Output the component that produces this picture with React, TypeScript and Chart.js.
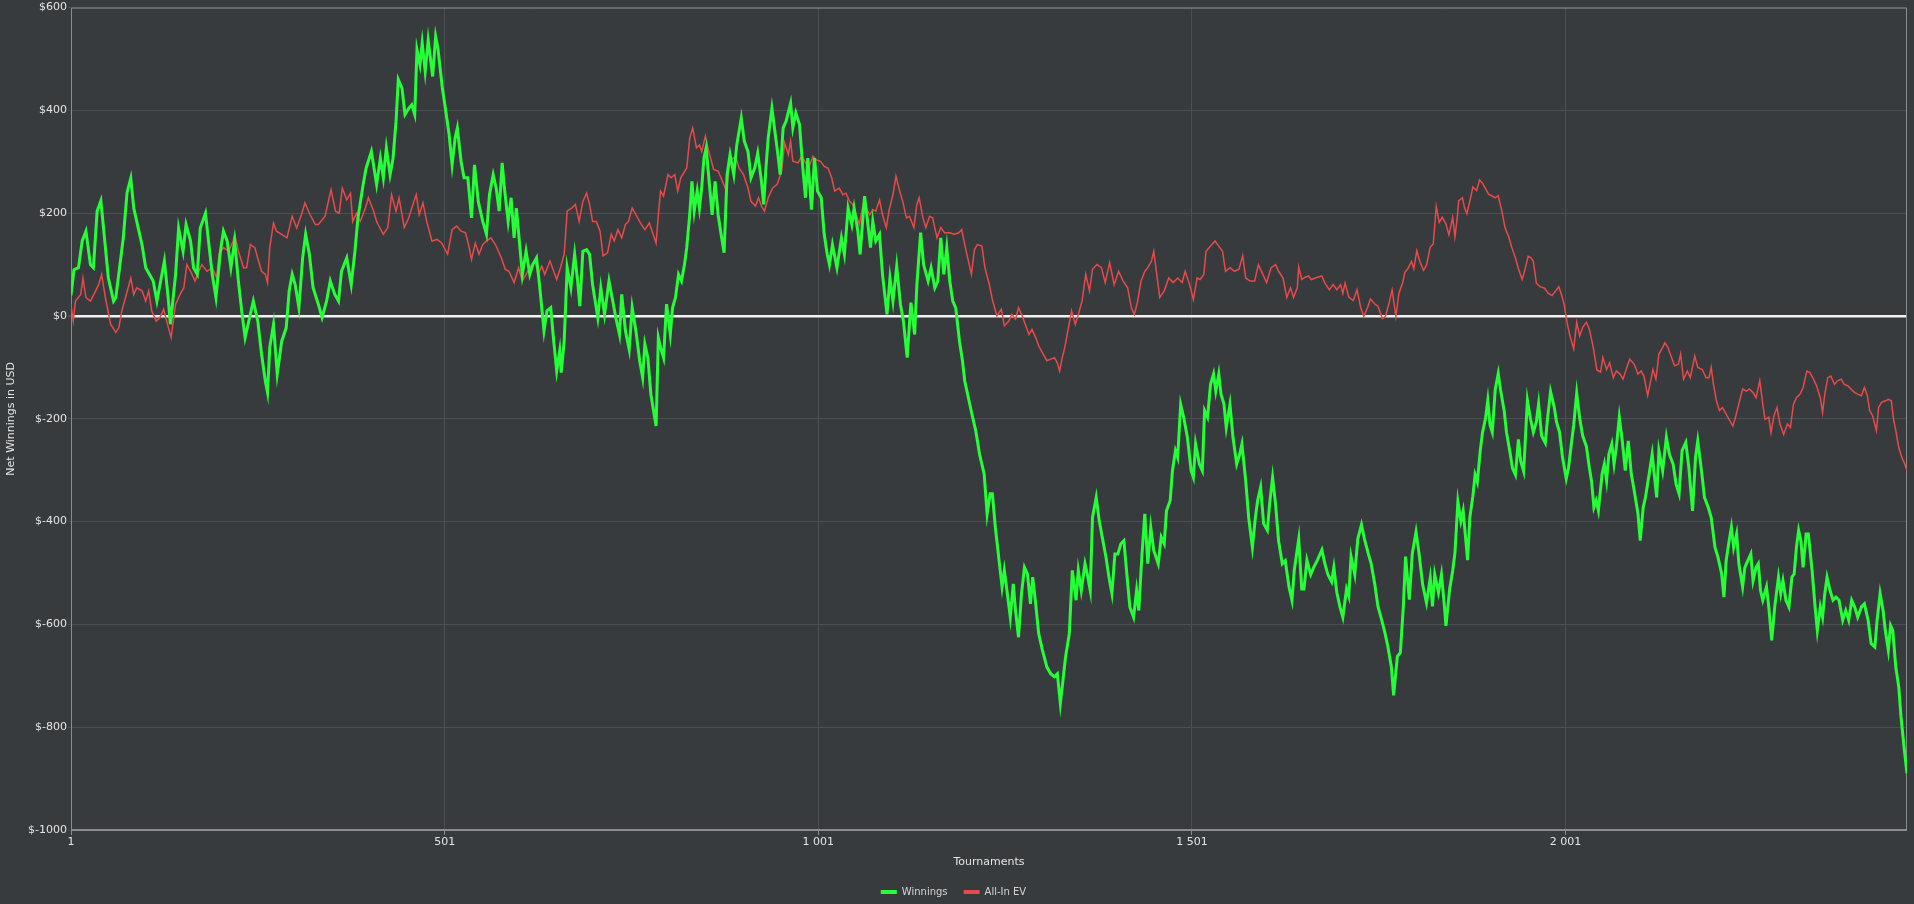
import React, { useEffect, useRef } from "react";
import { Chart, registerables } from "chart.js";

Chart.register(...registerables);

// ---- axis data ----
const xTickValues = [1, 501, 1001, 1501, 2001];
const yTickValues = [-1000, -800, -600, -400, -200, 0, 200, 400, 600];
const firstTournament = 1;
const lastTournament = 2458;
const seriesNames = ["Winnings", "All-In EV"];

// ---- Winnings (green) : tournament number / net winnings ----
const winningsTournament = [
  1, 5, 11, 16, 21, 27, 31, 36, 41, 51, 58, 61, 71, 76, 81, 85, 91, 96, 101, 111, 116, 121, 126, 131, 134, 141, 145, 151, 155, 161, 165, 170, 174, 181, 185, 190, 195, 201, 205, 210, 215, 220, 225, 230, 234, 240, 245, 251, 256, 261, 264, 267, 272, 277, 283, 289, 293, 297, 301, 306, 311, 315, 320, 325, 332, 337, 343, 348, 354, 359, 363, 370, 376, 381, 385, 392, 396, 403,
  410, 415, 419, 423, 428, 432, 436, 439, 444, 448, 453, 457, 461, 464, 468, 471, 475, 479, 485, 489, 492, 498, 502, 507, 511, 515, 518, 523, 527, 532, 537, 541, 546, 552, 557, 561, 566, 570, 574, 578, 581, 586, 590, 594, 597, 601, 605, 610, 615, 619, 624, 628, 634, 638, 643, 647, 651, 655, 657, 661, 665, 670, 675, 679, 682, 686, 691, 695, 699, 706, 710, 715, 721, 726, 730, 735, 738, 743, 748, 752, 757, 762, 766, 769, 773, 777, 782, 784, 787, 790, 794, 798, 803, 806, 810, 814, 818, 822,
  825, 829, 832, 835, 839, 842, 845, 848, 851, 855, 859, 863, 867, 871, 875, 879, 883, 888, 892, 898, 902, 907, 911, 916, 920, 925, 928, 931, 934, 939, 943, 947, 950, 954, 958, 964, 967, 971, 976, 980, 984, 987, 992, 996, 1000, 1005, 1009, 1013, 1016, 1020, 1026, 1032, 1036, 1041, 1046, 1049, 1054, 1057, 1063, 1067, 1071, 1074, 1078, 1083, 1087, 1093, 1097, 1101, 1106, 1111, 1115, 1120, 1125, 1130, 1133, 1138, 1142, 1148, 1152, 1157, 1161, 1165, 1169, 1173, 1177, 1181, 1185, 1190, 1194, 1197, 1205, 1212, 1217,
  1223, 1227, 1231, 1234, 1238, 1243, 1247, 1250, 1254, 1258, 1262, 1265, 1269, 1273, 1277, 1281, 1285, 1288, 1292, 1296, 1301, 1307, 1312, 1317, 1321, 1325, 1328, 1332, 1337, 1341, 1346, 1349, 1353, 1358, 1361, 1365, 1368, 1373, 1377, 1381, 1386, 1390, 1394, 1398, 1402, 1406, 1410, 1414, 1418, 1423, 1427, 1430, 1434, 1438, 1442, 1446, 1450, 1456, 1460, 1464, 1467, 1472, 1475, 1479, 1482, 1486, 1490, 1495, 1500, 1503, 1506, 1511, 1515, 1518, 1522, 1526, 1530, 1533, 1537, 1540, 1544, 1547, 1552, 1556, 1561, 1565, 1568, 1573, 1577, 1582, 1586, 1589, 1593, 1597, 1602, 1605, 1609, 1613, 1617, 1622, 1626, 1631, 1635, 1638,
  1644, 1648, 1651, 1655, 1660, 1664, 1669, 1675, 1679, 1683, 1688, 1691, 1695, 1699, 1703, 1708, 1711, 1714, 1719, 1723, 1728, 1732, 1737, 1741, 1746, 1750, 1754, 1759, 1763, 1768, 1771, 1776, 1780, 1784, 1787, 1792, 1796, 1801, 1805, 1810, 1815, 1820, 1823, 1826, 1831, 1835, 1839, 1841, 1846, 1850, 1853, 1857, 1861, 1864, 1870, 1873, 1877, 1880, 1883, 1887, 1890, 1894, 1897, 1900, 1903, 1907, 1911, 1914, 1919, 1922, 1927, 1930, 1934, 1938, 1941, 1945, 1947, 1950, 1954, 1958, 1962, 1965, 1969, 1974, 1977, 1981, 1986, 1989, 1993, 1997, 2002, 2005, 2009, 2012, 2016, 2020, 2024, 2029, 2033, 2036, 2039,
  2042, 2045, 2050, 2053, 2056, 2059, 2063, 2066, 2069, 2073, 2077, 2081, 2085, 2089, 2093, 2098, 2101, 2105, 2108, 2113, 2117, 2123, 2126, 2131, 2136, 2140, 2145, 2149, 2153, 2157, 2162, 2166, 2171, 2175, 2178, 2183, 2187, 2192, 2196, 2201, 2205, 2210, 2213, 2216, 2220, 2223, 2226, 2230, 2233, 2238, 2241, 2245, 2249, 2252, 2256, 2259, 2262, 2265, 2270, 2273, 2277, 2281, 2286, 2289, 2292, 2296, 2300, 2304, 2307, 2310, 2313, 2316, 2319, 2323, 2326, 2331, 2335, 2338, 2342, 2345, 2348, 2351, 2355, 2359, 2363, 2367, 2372, 2376, 2380, 2384, 2388, 2392, 2397, 2401, 2406, 2410, 2415, 2418, 2422, 2426, 2429, 2433, 2436, 2439, 2443, 2447, 2450, 2454, 2458,
];
const winningsValue = [
  40, 90, 94, 146, 165, 100, 94, 204, 224, 74, 29, 36, 152, 240, 268, 210, 171, 139, 94, 68, 29, 68, 107, 36, -16, 81, 171, 126, 178, 146, 94, 81, 171, 200, 146, 81, 36, 126, 165, 146, 94, 146, 68, 3, -42, -3, 29, -10, -74, -126, -149, -61, -16, -113, -49, -23, 49, 81, 61, 16, 113, 159, 120, 55, 23, -3, 29, 68, 42, 29, 87, 113, 61, 126, 191, 256, 288, 320,
  256, 307, 269, 327, 275, 307, 379, 460, 443, 392, 404, 411, 392, 518, 489, 531, 476, 537, 466, 544, 521, 443, 404, 353, 294, 346, 366, 301, 269, 269, 191, 294, 223, 184, 159, 236, 275, 249, 204, 298, 249, 184, 230, 152, 210, 146, 81, 126, 81, 100, 113, 61, -29, 10, 16, -49, -107, -68, -110, -49, 94, 55, 120, 68, 19, 126, 129, 120, 61, -3, 55, 3, 68, 29, -3, -36, 42, -29, -65, 16, -29, -87, -120, -55, -81, -152, -197, -214, -42, -61, -81, 23, -36, 16, 36, 81, 68, 100,
  133, 197, 262, 204, 243, 210, 249, 307, 327, 262, 197, 262, 197, 159, 123, 275, 314, 275, 333, 385, 340, 320, 269, 288, 317, 262, 217, 288, 346, 404, 359, 314, 275, 366, 379, 414, 366, 395, 372, 294, 230, 307, 207, 307, 243, 230, 159, 120, 100, 139, 94, 152, 120, 210, 178, 210, 165, 120, 233, 184, 133, 184, 146, 159, 81, 3, 74, 29, 97, 23, -10, -81, 26, -36, 61, 162, 100, 68, 94, 55, 68, 152, 81, 133, 68, 29, 16, -49, -87, -126, -180, -225, -270,
  -307, -385, -346, -346, -411, -476, -527, -495, -540, -586, -521, -573, -625, -540, -489, -502, -560, -508, -560, -618, -650, -683, -696, -702, -696, -754, -715, -663, -618, -495, -553, -495, -534, -482, -502, -534, -392, -353, -398, -430, -469, -508, -540, -463, -463, -443, -437, -502, -566, -586, -534, -573, -469, -385, -482, -411, -456, -482, -430, -443, -379, -359, -301, -262, -275, -172, -197, -236, -301, -314, -249, -288, -301, -184, -197, -133, -113, -146, -113, -152, -172, -217, -172, -236, -288, -269, -249, -320, -392, -450, -392, -359, -333, -404, -417, -366, -314, -366, -437, -482, -476, -527, -553, -495,
  -434, -531, -531, -475, -503, -489, -475, -455, -482, -503, -517, -489, -538, -565, -586, -531, -545, -468, -503, -434, -406, -434, -462, -482, -524, -565, -586, -614, -641, -683, -738, -662, -655, -565, -468, -552, -462, -420, -462, -524, -558, -510, -565, -503, -538, -503, -565, -603, -531, -496, -462, -361, -399, -379, -475, -392, -351, -309, -323, -261, -226, -199, -164, -212, -226, -143, -112, -143, -185, -226, -268, -296, -309, -240, -282, -302, -247, -164, -199, -226, -206, -171, -233, -247, -199, -147, -178, -206, -226, -275, -316, -296, -247, -212, -150, -199, -233, -254, -296, -323, -372,
  -359, -379, -307, -288, -320, -269, -249, -288, -256, -197, -243, -301, -243, -307, -340, -385, -437, -372, -353, -307, -269, -353, -262, -301, -236, -269, -288, -327, -346, -262, -246, -294, -379, -275, -243, -301, -353, -372, -392, -450, -469, -502, -547, -476, -437, -411, -450, -424, -482, -527, -489, -476, -463, -515, -489, -482, -534, -553, -527, -566, -631, -566, -508, -540, -515, -553, -566, -508, -502, -450, -417, -437, -489, -424, -424, -495, -566, -612, -566, -586, -540, -508, -534, -553, -547, -553, -592, -573, -592, -553, -566, -586, -566, -560, -592, -637, -644, -592, -540, -573, -612, -650, -602, -612, -683, -722, -780, -838, -890,
];

// ---- All-In EV (red) : tournament number / EV winnings ----
const evTournament = [
  1, 4, 7, 14, 17, 21, 27, 34, 38, 42, 47, 54, 61, 65, 69, 74, 81, 85, 89, 96, 101, 105, 109, 115, 120, 125, 129, 135, 141, 147, 152, 156, 161, 167, 172, 176, 183, 190, 196, 199, 205, 212, 218, 220, 225, 232, 236, 241, 247, 252, 256, 261, 264, 267, 272, 276, 283, 290, 297, 303, 310, 314, 321, 328, 332, 341, 349, 355, 360, 364, 370, 375, 378, 383, 388, 395, 399, 406, 410,
  412, 419, 425, 430, 436, 440, 447, 453, 457, 463, 467, 472, 477, 484, 491, 497, 505, 511, 517, 523, 529, 533, 537, 542, 547, 552, 557, 563, 569, 577, 582, 587, 594, 600, 605, 610, 616, 622, 626, 631, 635, 642, 646, 651, 656, 661, 665, 671, 676, 681, 686, 691, 695, 699, 704, 709, 713, 719, 724, 728, 733, 738, 743, 747, 752, 757, 763, 769, 775, 780, 784, 787, 790, 794, 800, 804, 809, 813, 817,
  825, 829, 833, 838, 842, 845, 850, 855, 861, 867, 872, 878, 883, 890, 895, 901, 907, 911, 917, 921, 925, 929, 934, 940, 946, 952, 956, 961, 964, 967, 974, 979, 984, 988, 994, 998, 1004, 1009, 1014, 1019, 1023, 1029, 1034, 1038, 1043, 1047, 1052, 1056, 1061, 1065, 1070, 1074, 1078, 1083, 1087, 1092, 1096, 1101, 1105, 1110, 1114, 1119, 1123, 1129, 1133, 1136, 1141, 1145, 1150, 1154, 1160, 1165, 1170, 1177, 1183, 1189, 1193, 1197, 1201, 1206, 1210, 1214, 1220, 1224, 1230, 1234,
  1240, 1246, 1250, 1256, 1260, 1265, 1269, 1274, 1278, 1283, 1287, 1292, 1296, 1302, 1307, 1312, 1317, 1321, 1324, 1328, 1331, 1335, 1340, 1345, 1349, 1354, 1359, 1364, 1368, 1374, 1380, 1385, 1391, 1397, 1403, 1409, 1415, 1420, 1424, 1428, 1433, 1438, 1442, 1447, 1450, 1454, 1458, 1464, 1470, 1476, 1482, 1488, 1492, 1498, 1503, 1508, 1512, 1517, 1520, 1526, 1532, 1537, 1542, 1546, 1552, 1558, 1564, 1569, 1573, 1579, 1585, 1590, 1596, 1601, 1607, 1613, 1617, 1623, 1628, 1633, 1637, 1642,
  1644, 1648, 1652, 1657, 1661, 1668, 1675, 1679, 1685, 1690, 1695, 1700, 1703, 1706, 1711, 1717, 1722, 1727, 1731, 1736, 1740, 1746, 1750, 1756, 1760, 1765, 1769, 1774, 1778, 1783, 1786, 1790, 1795, 1798, 1802, 1806, 1811, 1815, 1820, 1824, 1828, 1832, 1836, 1841, 1845, 1850, 1853, 1856, 1858, 1863, 1866, 1869, 1874, 1877, 1882, 1886, 1890, 1894, 1898, 1902, 1907, 1911, 1916, 1920, 1925, 1929, 1934, 1938, 1943, 1947, 1951, 1955, 1958, 1962, 1967, 1973, 1978, 1983, 1987, 1992, 1996, 1999, 2003, 2007, 2012, 2016, 2020, 2024, 2029, 2033, 2038, 2043, 2048,
  2051, 2056, 2060, 2065, 2069, 2074, 2078, 2083, 2087, 2093, 2098, 2102, 2106, 2111, 2114, 2118, 2122, 2126, 2131, 2134, 2138, 2143, 2147, 2152, 2155, 2159, 2164, 2168, 2174, 2178, 2184, 2189, 2193, 2196, 2199, 2203, 2207, 2211, 2217, 2220, 2225, 2229, 2234, 2238, 2243, 2247, 2252, 2256, 2261, 2265, 2268, 2273, 2276, 2280, 2284, 2288, 2293, 2298, 2302, 2306, 2310, 2315, 2319, 2324, 2328, 2333, 2337, 2342, 2345, 2348, 2352, 2356, 2361, 2365, 2370, 2374, 2379, 2383, 2388, 2392, 2397, 2401, 2405, 2408, 2412, 2417, 2420, 2424, 2429, 2433, 2437, 2440, 2443, 2447, 2451, 2455, 2458,
];
const evValue = [
  23, -10, 29, 42, 74, 36, 29, 49, 61, 81, 36, -16, -32, -23, 10, 36, 74, 42, 55, 49, 29, 49, 10, -10, -3, 13, -10, -42, 23, 42, 55, 100, 87, 68, 87, 100, 87, 94, 74, 120, 133, 126, 146, 159, 126, 94, 94, 139, 133, 107, 87, 81, 65, 133, 181, 165, 159, 152, 194, 171, 200, 220, 197, 178, 178, 194, 246, 204, 200, 249, 226, 239, 184, 200, 184, 210, 230, 204, 184,
  178, 159, 172, 236, 204, 230, 172, 191, 210, 236, 197, 220, 184, 146, 149, 142, 120, 168, 175, 165, 162, 139, 110, 142, 120, 139, 146, 152, 139, 113, 91, 87, 65, 94, 68, 81, 97, 107, 81, 97, 81, 107, 91, 71, 94, 120, 204, 210, 217, 184, 223, 239, 217, 184, 184, 165, 117, 123, 159, 146, 168, 152, 178, 184, 210, 197, 181, 168, 181, 159, 142, 197, 243, 233, 275, 269, 275, 243, 269,
  288, 346, 366, 327, 333, 320, 350, 317, 285, 282, 265, 243, 301, 311, 288, 275, 249, 223, 214, 230, 214, 204, 230, 249, 256, 282, 337, 314, 340, 301, 298, 311, 298, 288, 311, 304, 301, 291, 288, 269, 243, 249, 236, 239, 223, 217, 197, 178, 217, 210, 197, 207, 204, 226, 197, 172, 207, 236, 272, 243, 223, 191, 194, 172, 217, 230, 191, 172, 194, 191, 152, 172, 162, 162, 159, 162, 168, 139, 113, 81, 129, 139, 136, 94, 61, 32,
  0, 13, -19, -10, 3, -6, 16, 0, -16, -36, -26, -42, -58, -74, -87, -84, -81, -91, -107, -78, -61, -29, 10, -16, 3, 29, 81, 49, 91, 100, 94, 65, 104, 61, 87, 68, 55, 16, 3, 26, 68, 87, 94, 107, 126, 81, 36, 49, 74, 65, 74, 65, 87, 61, 32, 74, 71, 81, 126, 136, 146, 136, 126, 87, 94, 87, 91, 117, 74, 68, 68, 100, 81, 65, 94, 100, 87, 74, 36, 55, 36, 55,
  95, 71, 75, 78, 71, 75, 78, 64, 51, 61, 51, 61, 44, 64, 37, 30, 51, 16, -1, 16, 33, 23, 19, -5, -1, 26, 51, -1, 44, 64, 85, 92, 106, 92, 127, 106, 89, 99, 134, 140, 213, 182, 192, 179, 158, 192, 154, 189, 224, 230, 210, 199, 230, 251, 244, 265, 258, 248, 237, 234, 230, 234, 203, 172, 154, 134, 113, 92, 71, 92, 116, 113, 106, 64, 57, 54, 44, 40, 47, 57, 40, 23, -12, -39, -64, -12, -39, -22, -12, -26, -60, -105, -109,
  -81, -104, -91, -120, -107, -113, -123, -100, -84, -94, -113, -107, -117, -155, -133, -104, -123, -74, -61, -52, -61, -81, -97, -94, -74, -123, -107, -120, -78, -100, -104, -120, -120, -100, -133, -165, -184, -178, -194, -201, -214, -194, -165, -142, -146, -142, -149, -159, -126, -172, -201, -197, -227, -194, -178, -210, -230, -210, -217, -172, -159, -152, -139, -107, -110, -123, -136, -159, -188, -152, -120, -117, -133, -126, -123, -133, -136, -142, -149, -152, -155, -139, -155, -184, -194, -223, -178, -168, -165, -162, -165, -201, -223, -256, -275, -288, -301,
];

// ---- styles ----
const BG = "#383b3e";
const GRID = "#4c4f52";
const FRAME = "#8c8c8c";
const TEXT = "#e4e4e4";
const GREEN = "#25ff38";
const RED = "#e84a4a";
const FONT = "'DejaVu Sans', Verdana, sans-serif";

const fmtThousands = (v: number) =>
  String(v).replace(/\B(?=(\d{3})+(?!\d))/g, " ");

export default function App() {
  const ref = useRef<HTMLCanvasElement | null>(null);

  useEffect(() => {
    if (!ref.current) return;

    const framePlugin = {
      id: "frame",
      beforeDatasetsDraw(chart: any) {
        const { ctx, chartArea: a } = chart;
        ctx.save();
        ctx.strokeStyle = FRAME;
        ctx.lineWidth = 1;
        ctx.beginPath();
        ctx.moveTo(a.left + 0.5, a.bottom);
        ctx.lineTo(a.left + 0.5, a.top + 0.5);
        ctx.lineTo(a.right - 0.5, a.top + 0.5);
        ctx.lineTo(a.right - 0.5, a.bottom);
        ctx.stroke();
        ctx.lineWidth = 2;
        ctx.beginPath();
        ctx.moveTo(a.left, a.bottom);
        ctx.lineTo(a.right, a.bottom);
        ctx.stroke();
        ctx.restore();
      },
    };

    const winningsData = winningsTournament.map((t, i) => ({ x: t, y: winningsValue[i] }));
    const evData = evTournament.map((t, i) => ({ x: t, y: evValue[i] }));

    const chart = new Chart(ref.current, {
      type: "line",
      data: {
        datasets: [
          {
            label: seriesNames[0],
            data: winningsData,
            borderColor: GREEN,
            backgroundColor: GREEN,
            borderWidth: 3,
            pointRadius: 0,
            tension: 0,
          },
          {
            label: seriesNames[1],
            data: evData,
            borderColor: RED,
            backgroundColor: RED,
            borderWidth: 1.5,
            pointRadius: 0,
            tension: 0,
          },
        ],
      },
      options: {
        responsive: false,
        animation: false,
        layout: { padding: { top: 6, right: 7, bottom: -3, left: 0 } },
        font: { family: FONT, size: 11 },
        plugins: {
          tooltip: { enabled: false },
          legend: {
            position: "bottom",
            labels: {
              color: "#d4d4d4",
              font: { family: FONT, size: 10 },
              boxWidth: 16,
              boxHeight: 4,
              padding: 16,
              generateLabels: (c: any) =>
                Chart.defaults.plugins.legend.labels
                  .generateLabels(c)
                  .map((l: any) => ({ ...l, lineWidth: 0, fillStyle: l.strokeStyle })),
            },
          },
        },
        scales: {
          x: {
            type: "linear",
            min: firstTournament,
            max: lastTournament,
            afterBuildTicks: (s: any) => {
              s.ticks = xTickValues.map((v) => ({ value: v }));
            },
            afterFit: (s: any) => {
              s.height = 41;
            },
            ticks: {
              autoSkip: false,
              maxRotation: 0,
              padding: 1,
              color: TEXT,
              font: { family: FONT, size: 11 },
              callback: (v: any) => fmtThousands(Number(v)),
            },
            grid: { color: GRID, tickColor: FRAME, tickLength: 5, lineWidth: 1 },
            border: { display: false },
            title: {
              display: true,
              text: "Tournaments",
              color: TEXT,
              font: { family: FONT, size: 11 },
              padding: { top: 0, bottom: 2 },
            },
          },
          y: {
            type: "linear",
            min: yTickValues[0],
            max: yTickValues[yTickValues.length - 1],
            afterBuildTicks: (s: any) => {
              s.ticks = yTickValues.map((v) => ({ value: v }));
            },
            afterFit: (s: any) => {
              s.width = 71;
            },
            ticks: {
              padding: 1,
              color: TEXT,
              font: { family: FONT, size: 11 },
              callback: (v: any) => "$" + v,
            },
            grid: {
              color: (c: any) => (c.tick && c.tick.value === 0 ? "#f2f2f2" : GRID),
              lineWidth: (c: any) => (c.tick && c.tick.value === 0 ? 2.5 : 1),
              tickColor: GRID,
              tickLength: 3,
            },
            border: { display: false },
            title: {
              display: true,
              text: "Net Winnings in USD",
              color: TEXT,
              font: { family: FONT, size: 11 },
              padding: { top: 5, bottom: 0 },
            },
          },
        },
      } as any,
      plugins: [framePlugin],
    });

    return () => chart.destroy();
  }, []);

  return (
    <div
      style={{
        position: "fixed",
        left: 0,
        top: 0,
        width: 1914,
        height: 904,
        background: BG,
      }}
    >
      <canvas
        ref={ref}
        width={1914}
        height={904}
        style={{ display: "block", width: 1914, height: 904 }}
      />
    </div>
  );
}
